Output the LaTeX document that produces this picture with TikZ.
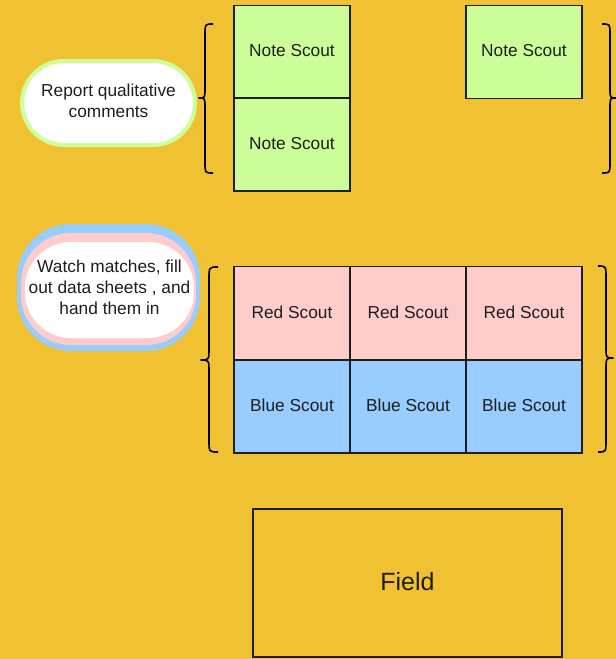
\documentclass[tikz,border=0pt]{standalone}
\usepackage{fontspec}
\setmainfont{Liberation Sans}
\usetikzlibrary{shapes.misc}
\definecolor{bgyellow}{RGB}{240,193,50}
\definecolor{notegreen}{RGB}{204,255,153}
\definecolor{redfill}{RGB}{255,204,204}
\definecolor{bluefill}{RGB}{153,204,255}
\definecolor{ink}{RGB}{30,30,30}
\tikzset{
  cell/.style={draw=ink, line width=1.6pt, minimum width=116pt, minimum height=93pt,
    inner sep=0pt, font=\fontsize{17.3}{20}\selectfont, text=ink},
  notecell/.style={cell, fill=notegreen},
  redcell/.style={cell, fill=redfill},
  bluecell/.style={cell, fill=bluefill},
  bracepath/.style={draw=black, line width=1.6pt, line join=round},
  pilltext/.style={font=\fontsize{17.3}{21}\selectfont, text=ink, align=center}
}
\begin{document}
\begin{tikzpicture}[x=1pt,y=-1pt]
\useasboundingbox (0,0) rectangle (616,659);
\fill[bgyellow] (0,0) rectangle (616,659);

% note scouts
\node[notecell] (n1) at (292,52) {\raisebox{2.5pt}{Note Scout}};
\node[notecell] (n2) at (292,144.5) {\raisebox{2.5pt}{Note Scout}};
\node[notecell] (n3) at (524,52) {\raisebox{2.5pt}{Note Scout}};

% match scouts
\node[redcell] (r1) at (292,313) {\raisebox{2.5pt}{Red Scout}};
\node[redcell] (r2) at (408,313) {\raisebox{2.5pt}{Red Scout}};
\node[redcell] (r3) at (524,313) {\raisebox{2.5pt}{Red Scout}};
\node[bluecell] (b1) at (292,406.5) {\raisebox{2.5pt}{Blue Scout}};
\node[bluecell] (b2) at (408,406.5) {\raisebox{2.5pt}{Blue Scout}};
\node[bluecell] (b3) at (524,406.5) {\raisebox{2.5pt}{Blue Scout}};

% field
\node[draw=ink, line width=1.6pt, fill=bgyellow, minimum width=309pt, minimum height=148pt,
  inner sep=0pt, font=\fontsize{25}{28}\selectfont, text=ink] (field) at (407.5,583)
  {\raisebox{3pt}{Field}};

% qualitative comments pill
\node[rounded rectangle, draw=notegreen, line width=4pt, fill=white,
  minimum width=173pt, minimum height=84pt, inner sep=0pt] (qual) at (108.5,103) {};
\node[pilltext] (qualtext) at (108.5,100.5) {Report qualitative\\comments};

% match scouting pill: blue and pink rings around white
\fill[bluefill, rounded corners=54pt] (17,224) rectangle (200,351);
\fill[redfill, rounded corners=50pt] (21,233) rectangle (196,345);
\node[fill=white, rounded corners=46pt, minimum width=169pt, minimum height=96pt,
  inner sep=0pt] (watch) at (109.5,290) {};
\node[pilltext] (watchtext) at (109.5,287.5)
  {Watch matches, fill\\out data sheets , and\\hand them in};

% braces
\draw[bracepath] (213,24) .. controls (205,24) .. (205,34) -- (205,88)
  .. controls (205,98) .. (199,98) .. controls (205,98) .. (205,108)
  -- (205,163) .. controls (205,173) .. (213,173);
\draw[bracepath] (602,24) .. controls (610,24) .. (610,34) -- (610,88)
  .. controls (610,98) .. (616,98) .. controls (610,98) .. (610,108)
  -- (610,163) .. controls (610,173) .. (602,173);
\draw[bracepath] (218,267) .. controls (209,267) .. (209,279) -- (209,348)
  .. controls (209,360) .. (201,360) .. controls (209,360) .. (209,372)
  -- (209,440) .. controls (209,452) .. (218,452);
\draw[bracepath] (598,266) .. controls (606,266) .. (606,278) -- (606,346)
  .. controls (606,358) .. (613,358) .. controls (606,358) .. (606,370)
  -- (606,440) .. controls (606,452) .. (598,452);
\end{tikzpicture}
\end{document}
